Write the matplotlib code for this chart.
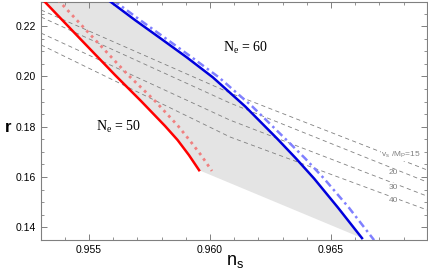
import numpy as np
import matplotlib
matplotlib.use('Agg')
import matplotlib.pyplot as plt
from matplotlib.ticker import MultipleLocator, FormatStrFormatter

# N_e = 50 curves
ns_50 = [0.95310, 0.95459, 0.95607, 0.95715, 0.95814, 0.95866, 0.95913, 0.95955]
r_50 = [0.2304, 0.2154, 0.2006, 0.1902, 0.1803, 0.1747, 0.1687, 0.1627]
ns_50_dot = [0.95372, 0.95517, 0.95661, 0.95773, 0.95868, 0.95915, 0.95963, 0.96008]
r_50_dot = [0.2304, 0.2154, 0.2006, 0.1902, 0.1803, 0.1747, 0.1687, 0.1624]

# N_e = 60 curves
ns_60 = [0.95579, 0.95690, 0.95793, 0.95905, 0.96012, 0.96145,
         0.96277, 0.96355, 0.96430, 0.96529, 0.96628]
r_60 = [0.2304, 0.2224, 0.2153, 0.2075, 0.1996, 0.1881,
        0.1753, 0.1674, 0.1594, 0.1478, 0.1357]
ns_60_dd = [0.95599, 0.95711, 0.95814, 0.95926, 0.96037, 0.96174,
            0.96310, 0.96393, 0.96471, 0.96574, 0.96678]
r_60_dd = [0.2304, 0.2224, 0.2153, 0.2075, 0.1996, 0.1881,
           0.1753, 0.1674, 0.1594, 0.1478, 0.1349]

# constant v_s/M_P contours
vs_labels = ['$\\mathregular{v_s\\ /M_P}$=15', '20', '30', '40']
vs_ns = [0.95302, 0.96083, 0.96897]
vs_r = [[0.2264, 0.1934, 0.1628],
        [0.2236, 0.1894, 0.1580],
        [0.2172, 0.1826, 0.1524],
        [0.2125, 0.1759, 0.1469]]
vs_lab_pos = [(0.96789, 0.1687), (0.96756, 0.1616), (0.96756, 0.1560), (0.96760, 0.1508)]

plt.rcParams['font.family'] = ['Liberation Sans', 'DejaVu Sans']
fig = plt.figure(figsize=(4.28, 2.76), dpi=100)
ax = fig.add_axes([0.0958, 0.1304, 0.9019, 0.8624])

# shaded region between the two solid curves
poly_x = ns_50 + ns_60[::-1]
poly_y = r_50 + r_60[::-1]
ax.fill(poly_x, poly_y, color='#e4e4e4', lw=0, zorder=0)

for rr in vs_r:
    ax.plot(vs_ns, rr, color='#808080', lw=0.6, dashes=(5, 4), zorder=1)

ax.plot(ns_50, r_50, color='#ff0000', lw=1.8, zorder=3)
ax.plot(ns_50_dot, r_50_dot, color='#f08080', lw=2.0, ls=(0, (1, 1.5)), zorder=3)
ax.plot(ns_60, r_60, color='#0000dd', lw=1.8, zorder=3)
ax.plot(ns_60_dd, r_60_dd, color='#8080ff', lw=1.8, ls=(0, (3, 1.5, 1, 1.5)), zorder=2)

for lab, (x, y) in zip(vs_labels, vs_lab_pos):
    ax.text(x, y, lab, fontsize=6, color='#808080', ha='center', va='center',
            bbox=dict(facecolor='white', edgecolor='none', pad=0.3), zorder=2)

ax.text(0.9562, 0.1799, '$\\mathregular{N_e}$ = 50', family='Liberation Serif',
        fontsize=10, ha='center', va='center')
ax.text(0.96145, 0.2113, '$\\mathregular{N_e}$ = 60', family='Liberation Serif',
        fontsize=10, ha='center', va='center')

ax.set_xlim(0.953017, 0.968967)
ax.set_ylim(0.13495, 0.22958)
ax.xaxis.set_major_locator(MultipleLocator(0.005))
ax.xaxis.set_minor_locator(MultipleLocator(0.001))
ax.yaxis.set_major_locator(MultipleLocator(0.02))
ax.yaxis.set_minor_locator(MultipleLocator(0.005))
ax.xaxis.set_major_formatter(FormatStrFormatter('%.3f'))
ax.yaxis.set_major_formatter(FormatStrFormatter('%.2f'))
ax.tick_params(which='both', direction='in', top=True, right=True,
               color='#808080', labelsize=7.5)
ax.tick_params(which='major', length=4, width=0.7)
ax.tick_params(which='minor', length=2.5, width=0.6)
for s in ax.spines.values():
    s.set_color('#808080')
    s.set_linewidth(0.8)

fig.text(5 / 428, 1 - 127 / 276, 'r', fontsize=12, fontweight='bold', ha='left', va='center')
fig.text(235 / 428, 1 - 262 / 276, '$\\mathregular{n_s}$', fontsize=13, ha='center', va='center')

fig.savefig('out.png', dpi=100)
